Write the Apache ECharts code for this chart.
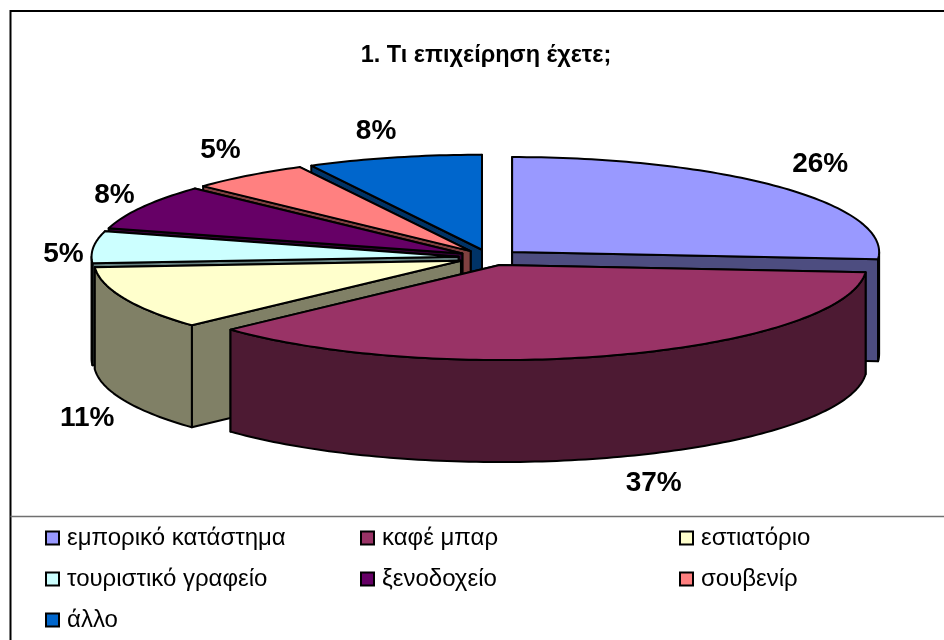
<!DOCTYPE html>
<html><head><meta charset="utf-8">
<style>html,body{margin:0;padding:0;background:#fff}#c{width:944px;height:640px}</style>
<script src="https://cdn.jsdelivr.net/npm/echarts@6/dist/echarts.min.js"></script>
</head><body><div id="c"></div>
<script>
const titleText = '1. Τι επιχείρηση έχετε;';
const categories = ['εμπορικό κατάστημα','καφέ μπαρ','εστιατόριο','τουριστικό γραφείο','ξενοδοχείο','σουβενίρ','άλλο'];
const shares = [26.2,36.9,10.8,5.4,7.7,5.3,7.7];
const topColors = ['#9999ff','#993366','#ffffcc','#ccffff','#660066','#ff8080','#0066cc'];
const wallColors = ['#4d4d80','#4d1a33','#808066','#668080','#330033','#804040','#003366'];
const paintOrder = [6,5,4,3,0,2,1];
const labelOffsets = [[39,-23],[33,27],[-37,18],[-30,7],[-28,-12],[-28,-25],[-18,-26]];
const legendColumns = [[0,3,6],[1,4],[2,5]];
const legendLefts = [45,360,679];

const G = {cx:489.4, cy:257.5, rx:367, ry:95, depth:102, ex:31, ey:8};
const total = shares.reduce((a,b)=>a+b,0);
const starts = []; shares.reduce((acc,v,i)=>{starts[i]=acc; return acc+v;},0);
const ang = v => v/total*2*Math.PI;
function rimPoint(ax,ay,t){return [ax+G.rx*Math.sin(t), ay-G.ry*Math.cos(t)];}
function renderSlice(i){
  const t0=ang(starts[i]), t1=ang(starts[i]+shares[i]), mid=(t0+t1)/2;
  const ax=G.cx+G.ex*Math.sin(mid), ay=G.cy-G.ey*Math.cos(mid);
  const arc=[]; const n=Math.max(4,Math.ceil((t1-t0)/0.02));
  for(let k=0;k<=n;k++) arc.push(rimPoint(ax,ay,t0+(t1-t0)*k/n));
  const line={stroke:'#000',lineWidth:2,lineJoin:'round'};
  const down=p=>[p[0],p[1]+G.depth];
  const kids=[];
  const wall=pts=>kids.push({type:'polygon',shape:{points:pts},style:Object.assign({fill:wallColors[i]},line)});
  const rimEnds=[arc[0],arc[n]].sort((a,b)=>a[1]-b[1]);
  rimEnds.forEach(p=>wall([[ax,ay],p,down(p),[ax,ay+G.depth]]));
  const lo=Math.max(t0,Math.PI/2), hi=Math.min(t1,3*Math.PI/2);
  if(hi>lo){
    const o=[]; const m=Math.max(2,Math.ceil((hi-lo)/0.02));
    for(let k=0;k<=m;k++) o.push(rimPoint(ax,ay,lo+(hi-lo)*k/m));
    wall(o.concat(o.map(down).reverse()));
  }
  kids.push({type:'polygon',shape:{points:[[ax,ay]].concat(arc)},style:Object.assign({fill:topColors[i]},line)});
  const r=rimPoint(ax,ay,mid), front=(mid>Math.PI/2&&mid<3*Math.PI/2)?G.depth:0;
  kids.push({type:'text',z2:100,style:{x:r[0]+labelOffsets[i][0],y:r[1]+front+labelOffsets[i][1],
    text:Math.round(shares[i]/total*100)+'%',align:'center',verticalAlign:'middle',
    font:'bold 28px "Liberation Sans",Arial,sans-serif',fill:'#000'}});
  return {type:'group',children:kids};
}
const series = paintOrder.map((i,pos)=>({
  type:'custom',name:categories[i],coordinateSystem:'none',z:2+pos,silent:true,animation:false,
  itemStyle:{color:topColors[i],borderColor:'#000',borderWidth:2},
  data:[{name:categories[i],value:shares[i]}],
  renderItem:()=>renderSlice(i)
}));
const legend = legendColumns.map((col,c)=>({
  orient:'vertical',left:legendLefts[c],top:526,itemGap:17,itemWidth:13,itemHeight:13,icon:'rect',selectedMode:false,
  itemStyle:{borderColor:'#000',borderWidth:2},
  textStyle:{fontFamily:'"Liberation Sans",Arial,sans-serif',fontSize:24,lineHeight:24,color:'#000',padding:[0,0,0,3]},
  padding:0,
  data:col.map(i=>categories[i])
}));
const chart = echarts.init(document.getElementById('c'),null,{renderer:'canvas'});
chart.setOption({
  animation:false,backgroundColor:'#fff',
  title:{text:titleText,left:486,top:44,textAlign:'center',padding:0,
    textStyle:{fontFamily:'"Liberation Sans",Arial,sans-serif',fontWeight:'bold',fontSize:23.5,color:'#000'}},
  legend,series,
  graphic:[
    {type:'polyline',shape:{points:[[10.5,640],[10.5,11],[944,11]]},style:{fill:'none',stroke:'#000',lineWidth:2},silent:true,z:1},
    {type:'line',shape:{x1:10.5,y1:516.5,x2:944,y2:516.5},style:{stroke:'#707070',lineWidth:1.5},silent:true,z:1}
  ]
});
</script></body></html>
